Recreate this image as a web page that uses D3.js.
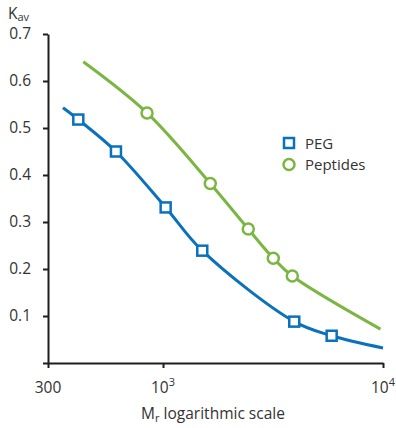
<!DOCTYPE html>
<html>
<head>
<meta charset="utf-8">
<script src="https://cdn.jsdelivr.net/npm/d3@7"></script>
<style>
  html, body { margin: 0; padding: 0; background: #fff; }
  svg text { font-family: "Open Sans", "Noto Sans", sans-serif; fill: #333; }
</style>
</head>
<body>
<svg id="chart" width="396" height="428"></svg>
<script>
// PEG standards: molecular weight (Mr) and partition coefficient (Kav)
const pegMr     = [351, 412, 611, 1028, 1508, 3950, 5843, 10000];
const pegKav    = [0.543, 0.518, 0.450, 0.331, 0.239, 0.088, 0.058, 0.032];
const pegMarked = [false, true, true, true, true, true, true, false];

// Peptide standards
const pepMr     = [434, 846, 1640, 2441, 3172, 3870, 9739];
const pepKav    = [0.641, 0.532, 0.382, 0.285, 0.223, 0.185, 0.072];
const pepMarked = [false, true, true, true, true, true, false];

// Axis ticks
const xTicks = [300, 1000, 10000];
const yTicks = [0, 0.1, 0.2, 0.3, 0.4, 0.5, 0.6, 0.7];

const blue = "#0a71bb";
const green = "#7ab641";
const axisColor = "#1e1e1e";

const svg = d3.select("#chart");

const x = d3.scaleLog().domain([300, 10000]).range([48, 383]);
const y = d3.scaleLinear().domain([0, 0.7]).range([363, 34]);

// Y axis
const yAxis = svg.append("g")
  .attr("transform", `translate(${x(300)},0)`)
  .call(d3.axisLeft(y).tickValues(yTicks).tickSize(5).tickSizeOuter(0).tickPadding(12)
    .tickFormat(d => d === 0 ? "" : d3.format(".1f")(d)));
yAxis.select(".domain").attr("stroke", axisColor).attr("stroke-width", 2);
yAxis.selectAll(".tick line").attr("stroke", axisColor).attr("stroke-width", 2);
yAxis.selectAll(".tick text").attr("font-size", 15.5).attr("fill", "#333")
  .attr("font-family", "Open Sans, Noto Sans, sans-serif");

// X axis
const xAxis = svg.append("g")
  .attr("transform", `translate(0,${y(0)})`)
  .call(d3.axisBottom(x).tickValues(xTicks).tickSize(5).tickSizeOuter(0).tickFormat(""));
xAxis.select(".domain").attr("stroke", axisColor).attr("stroke-width", 2);
xAxis.selectAll(".tick line").attr("stroke", axisColor).attr("stroke-width", 2);

// X tick labels, powers of ten with superscript exponents
xTicks.forEach(v => {
  const exp = Math.log10(v);
  const t = svg.append("text")
    .attr("x", x(v))
    .attr("y", 393)
    .attr("text-anchor", "middle")
    .attr("font-size", 15.5);
  if (Number.isInteger(exp) && exp >= 3) {
    t.append("tspan").text("10");
    t.append("tspan").attr("dy", -7).attr("font-size", 11).text(exp);
  } else {
    t.text(v);
  }
});

// Axis titles
const yTitle = svg.append("text").attr("x", 8).attr("y", 19).attr("font-size", 15.5);
yTitle.append("tspan").text("K");
yTitle.append("tspan").attr("dy", 2).attr("font-size", 11).text("av");

const xTitle = svg.append("text").attr("x", 213).attr("y", 419)
  .attr("text-anchor", "middle").attr("font-size", 15.5);
xTitle.append("tspan").text("M");
xTitle.append("tspan").attr("dy", 3).attr("font-size", 11).text("r");
xTitle.append("tspan").attr("dy", -3).text(" logarithmic scale");

// Curves
const line = d3.line()
  .x(d => x(d[0]))
  .y(d => y(d[1]))
  .curve(d3.curveCatmullRom.alpha(0.5));

const pegPts = pegMr.map((m, i) => [m, pegKav[i], pegMarked[i]]);
const pepPts = pepMr.map((m, i) => [m, pepKav[i], pepMarked[i]]);

svg.append("path").attr("d", line(pepPts))
  .attr("fill", "none").attr("stroke", green).attr("stroke-width", 3);
svg.append("path").attr("d", line(pegPts))
  .attr("fill", "none").attr("stroke", blue).attr("stroke-width", 3);

// Markers
const sq = 10;
svg.selectAll("rect.peg").data(pegPts.filter(d => d[2])).enter()
  .append("rect").attr("class", "peg")
  .attr("x", d => x(d[0]) - sq / 2).attr("y", d => y(d[1]) - sq / 2)
  .attr("width", sq).attr("height", sq)
  .attr("fill", "#fff").attr("stroke", blue).attr("stroke-width", 2.5);

svg.selectAll("circle.pep").data(pepPts.filter(d => d[2])).enter()
  .append("circle").attr("class", "pep")
  .attr("cx", d => x(d[0])).attr("cy", d => y(d[1])).attr("r", 5.5)
  .attr("fill", "#fff").attr("stroke", green).attr("stroke-width", 2.5);

// Legend
const legend = svg.append("g").attr("transform", "translate(289,143)");
legend.append("rect").attr("x", -sq / 2).attr("y", -sq / 2).attr("width", sq).attr("height", sq)
  .attr("fill", "#fff").attr("stroke", blue).attr("stroke-width", 2.5);
legend.append("text").attr("x", 16).attr("y", 5.5).attr("font-size", 15).text("PEG");
legend.append("circle").attr("cx", 0).attr("cy", 21.5).attr("r", 5.5)
  .attr("fill", "#fff").attr("stroke", green).attr("stroke-width", 2.5);
legend.append("text").attr("x", 16).attr("y", 27).attr("font-size", 15).text("Peptides");
</script>
</body>
</html>
